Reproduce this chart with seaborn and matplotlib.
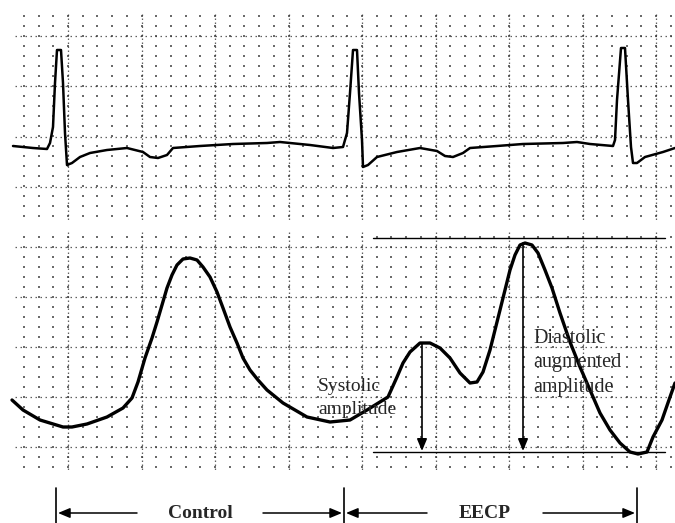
"""
ECG and pressure trace, control vs EECP, redrawn on a dotted chart-paper grid.
"""
import numpy as np
import pandas as pd
import matplotlib
matplotlib.use("Agg")
import matplotlib.pyplot as plt
import seaborn as sns

# ECG trace (x, y in picture units, y grows downward)
ecg_x = [13, 33, 47, 50, 53, 55, 57, 61, 63, 65, 67, 72, 80, 90, 107, 127, 143, 150, 158,
         167, 173, 200, 233, 267, 280, 290, 310, 333,
         343, 347, 350, 353, 357, 359, 362, 363, 368, 377, 397, 420, 437, 445, 453, 463,
         470, 497, 523, 563, 577, 590, 613, 615, 617, 621, 625, 628, 631, 633, 637, 645,
         663, 675]
ecg_y = [146, 148, 149, 143, 127, 83, 50, 50, 83, 133, 165, 163, 157, 153, 150, 148, 152, 157, 158,
         155, 148, 146, 144, 143, 142, 143, 145, 148,
         147, 133, 93, 50, 50, 93, 140, 167, 165, 157, 152, 148, 151, 156, 157, 153,
         148, 146, 144, 143, 142, 144, 146, 140, 100, 48, 48, 100, 147, 163, 163, 157,
         152, 148]

# pressure trace
bp_x = [12, 23, 40, 63, 72, 87, 107, 123, 132, 138, 145, 152, 157, 162, 167, 172, 177, 183,
        190, 197, 203, 210, 217, 223, 230, 237, 243, 250, 258, 267, 283, 307, 330, 350,
        367, 388, 397, 403, 410, 420, 430, 440, 450, 460, 470, 477, 483, 490, 495, 500,
        505, 510, 515, 520, 525, 532, 538, 545, 552, 560, 570, 580, 590, 600, 610, 620,
        630, 638, 647, 653, 662, 670, 675]
bp_y = [400, 410, 420, 427, 427, 424, 417, 408, 398, 382, 358, 338, 322, 305, 288, 275, 265, 259,
        258, 260, 267, 277, 292, 308, 327, 343, 358, 370, 380, 390, 403, 417, 422, 420,
        410, 397, 377, 363, 352, 343, 343, 348, 358, 373, 383, 382, 372, 350, 330, 310,
        290, 270, 255, 245, 243, 245, 253, 270, 288, 313, 342, 367, 390, 413, 430, 443,
        452, 454, 452, 437, 420, 397, 383]

# amplitude markers
amp_top = 238
amp_base = 452
amp_x0, amp_x1 = 373, 665
sys_x, sys_peak = 422, 343
dia_x, dia_peak = 523, 243

# phase spans along the bottom
phase_labels = ["Control", "EECP"]
phase_edges = [56, 344, 637]

sns.set_theme(style="white")
plt.rcParams["font.family"] = ["Liberation Serif", "DejaVu Serif"]

fig = plt.figure(figsize=(6.75, 5.23), dpi=100)
ax = fig.add_axes([0, 0, 1, 1])
ax.axis("off")

# chart paper: dots at minor crossings, dotted major lines
grid_col = "#3a3a3a"
xs_major = np.arange(-5.5, 676, 73.5)
xs_minor = np.arange(-5.5, 676, 14.7)
for y0, y1, ys_major in [(14, 222, np.arange(36, 222, 50.3)),
                         (232, 472, np.arange(247, 472, 50))]:
    ys_minor = np.arange(ys_major[0] - 20, y1, 10)
    ys_minor = ys_minor[ys_minor >= y0]
    gx, gy = np.meshgrid(xs_minor[xs_minor > 15], ys_minor)
    ax.scatter(gx.ravel(), gy.ravel(), s=2.5, marker="s", color=grid_col,
               linewidths=0, alpha=0.75)
    for yy in ys_major:
        ax.plot([15, 675], [yy, yy], color=grid_col, lw=0.9,
                linestyle=(0, (1.2, 2.8)), alpha=0.8)
    for xx in xs_major[xs_major > 15]:
        ax.plot([xx, xx], [y0, y1], color=grid_col, lw=0.9,
                linestyle=(0, (1.2, 2.0)), alpha=0.8)

# traces
ecg = pd.DataFrame({"x": ecg_x, "y": ecg_y})
bp = pd.DataFrame({"x": bp_x, "y": bp_y})
sns.lineplot(data=ecg, x="x", y="y", sort=False, color="black", lw=1.8, ax=ax)
sns.lineplot(data=bp, x="x", y="y", sort=False, color="black", lw=2.4, ax=ax)
ax.set_xlim(0, 675)
ax.set_ylim(523, 0)
ax.axis("off")

# amplitude reference lines and arrows
for yy in [amp_top, amp_base]:
    ax.plot([amp_x0, amp_x1], [yy, yy], color="black", lw=1.0)
for xx, top in [(sys_x, sys_peak), (dia_x, dia_peak)]:
    ax.annotate("", xy=(xx, amp_base - 1), xytext=(xx, top),
                arrowprops=dict(arrowstyle="-|>,head_length=0.6,head_width=0.25",
                                color="black", lw=1.2, shrinkA=0, shrinkB=0))

ax.text(318, 398, "Systolic\namplitude", fontsize=14, ha="left", va="center",
        linespacing=1.4)
ax.text(533, 363, "Diastolic\naugmented\namplitude", fontsize=14.5, ha="left",
        va="center", linespacing=1.42)

# phase spans
arrow_y = 513
for xx in phase_edges:
    ax.plot([xx, xx], [488, 523], color="black", lw=1.2)
gaps = [(137, 263), (427, 543)]
for i, lab in enumerate(phase_labels):
    left, right = phase_edges[i], phase_edges[i + 1]
    g0, g1 = gaps[i]
    ax.text((g0 + g1) / 2, arrow_y, lab, fontsize=14, fontweight="bold",
            ha="center", va="center")
    ax.annotate("", xy=(left + 2, arrow_y), xytext=(g0, arrow_y),
                arrowprops=dict(arrowstyle="-|>,head_length=0.6,head_width=0.25",
                                color="black", lw=1.1, shrinkA=0, shrinkB=0))
    ax.annotate("", xy=(right - 2, arrow_y), xytext=(g1, arrow_y),
                arrowprops=dict(arrowstyle="-|>,head_length=0.6,head_width=0.25",
                                color="black", lw=1.1, shrinkA=0, shrinkB=0))

fig.savefig("out.png", dpi=100)
plt.close(fig)
